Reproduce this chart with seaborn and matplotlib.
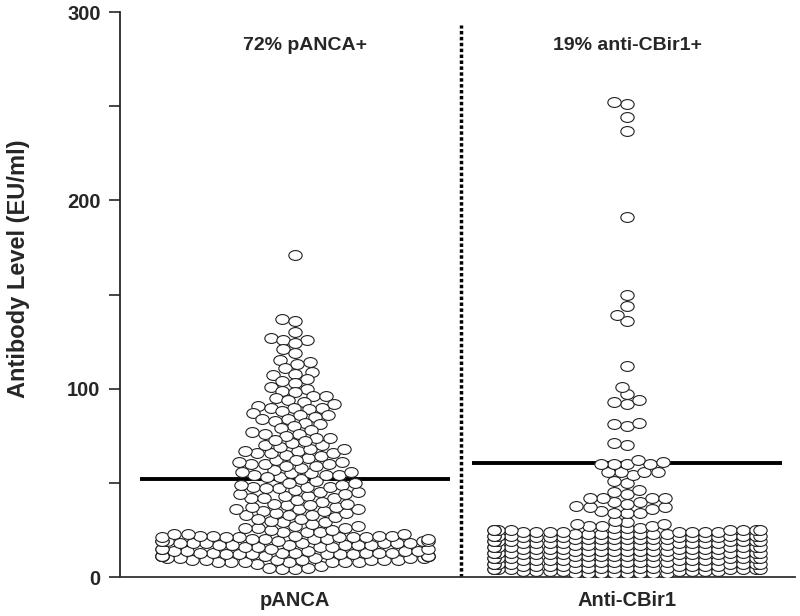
import numpy as np
import pandas as pd
import matplotlib
matplotlib.use('Agg')
import matplotlib.pyplot as plt
from matplotlib.path import Path
from matplotlib.transforms import Affine2D
from matplotlib.ticker import MultipleLocator
import seaborn as sns

groups = ['pANCA', 'Anti-CBir1']
headers = ['72% pANCA+', '19% anti-CBir1+']
cutoffs = [52, 60.5]

# pANCA levels (EU/ml)
pancaLow = [4, 4, 5, 5, 6,
            7, 8, 8, 8, 8, 8, 8, 8, 9, 9, 9, 9, 9, 9, 9,
            10, 10, 10, 10, 10, 11, 11, 11, 11, 11, 11, 11, 11, 11, 12, 12, 12, 12, 12, 12,
            13, 13, 13, 13, 13, 13, 13, 14, 14, 14, 14, 14, 15, 15, 15, 15, 16, 16, 16, 16,
            17, 17, 17, 17, 17, 17, 18, 18, 18, 18, 18, 18, 18, 19, 19, 19, 19, 19, 19, 20,
            20, 20, 20, 20, 21, 21, 21, 21, 21, 21, 22, 22, 22, 22, 22, 23, 23, 23, 24, 24,
            24, 25, 25, 26, 26, 26, 27, 27]
pancaMid = [28, 29, 29, 30, 31, 32, 33, 33, 33, 34, 34, 35, 35, 36, 36, 36, 37, 37, 38, 39,
            40, 41, 42, 42, 42, 43, 43, 44, 45, 45, 46, 47, 48, 48, 48, 49, 49, 50, 51, 52,
            53, 54, 54, 54, 55, 55, 56, 57, 58, 59, 60, 60, 60, 61, 61, 62, 63, 64, 65, 66,
            66, 66, 67, 67, 68, 68, 69, 70, 70, 71, 31, 38, 44, 50, 56, 62, 39, 47, 53, 59]
pancaHigh = [171, 137, 136, 130, 127, 126, 126, 124, 121, 119, 115, 114, 113, 111, 109, 108,
             107, 105, 104, 103, 101, 100, 99, 98, 96, 96, 95, 94, 93, 92, 91, 90, 90, 90,
             89, 88, 87, 86, 86, 85, 84, 84, 83, 82, 81, 80, 79, 78, 77, 76, 76, 75, 74, 74,
             73, 72]

# anti-CBir1 levels
antiLow = [2, 2, 2, 2, 2, 2, 2, 2, 3, 3, 3, 3, 3, 3, 3, 3, 4, 4, 4, 4, 4, 4, 4, 4,
           5, 5, 5, 5, 5, 5, 5, 5, 6, 6, 6, 6, 6, 6, 6, 6, 7, 7, 7, 7, 7, 7, 7, 7,
           8, 8, 8, 8, 8, 8, 8, 8, 9, 9, 9, 9, 9, 9, 9, 9, 10, 10, 10, 10, 10, 10, 10, 10,
           11, 11, 11, 11, 11, 11, 11, 11, 12, 12, 12, 12, 12, 12, 12, 12,
           13, 13, 13, 13, 13, 13, 13, 13, 14, 14, 14, 14, 14, 14, 14, 14,
           15, 15, 15, 15, 15, 15, 15, 15, 16, 16, 16, 16, 16, 16, 16, 16,
           17, 17, 17, 17, 17, 17, 17, 17, 18, 18, 18, 18, 18, 18, 18, 18,
           19, 19, 19, 19, 19, 19, 19, 19, 20, 20, 20, 20, 20, 20, 20, 20,
           21, 21, 21, 21, 21, 21, 21, 21, 22, 22, 22, 22, 22, 22, 22, 22,
           23, 23, 23, 23, 23, 23, 23, 23, 24, 24, 24, 24, 24, 24, 24, 24,
           25, 25, 25, 25, 25, 25, 25, 25, 26, 26, 26, 27, 27, 27, 28, 28, 29, 30]
antiMid = [34, 34, 34, 35, 36, 37, 37, 37.5, 39, 40, 40, 42, 42, 42, 42, 44, 45, 46,
           50, 51, 54, 56, 56, 56, 56, 60, 60, 60, 60, 61, 62]
antiHigh = [70, 71, 80, 81, 82, 92, 93, 94, 97, 101, 112, 136, 139, 144, 150, 191,
            237, 244, 251, 252]

panca = pancaLow + pancaMid + pancaHigh
antiUpper = antiMid + antiHigh
baseDF = pd.DataFrame({'marker': [groups[0]] * len(panca) + [groups[1]] * len(antiLow),
                       'level': panca + antiLow})
upperDF = pd.DataFrame({'marker': [groups[1]] * len(antiUpper), 'level': antiUpper})

sns.set_style('ticks')
plt.rcParams['font.family'] = ['Liberation Sans', 'DejaVu Sans']
plt.rcParams['font.weight'] = 'bold'

fig = plt.figure(figsize=(8, 6.16), dpi=100)
ax = fig.add_axes([0.15, 0.0633, 0.844, 0.9172])

for i, c in enumerate(cutoffs):
    ax.hlines(c, i - 0.467, i + 0.467, color='black', lw=2.8, zorder=1)

swarm_kw = dict(x='marker', y='level', order=groups, color='white',
                edgecolor='#222222', linewidth=0.8, size=8.2, ax=ax, zorder=3)
n0 = len(ax.collections)
sns.swarmplot(data=baseDF, **swarm_kw)
n1 = len(ax.collections)
sns.swarmplot(data=upperDF, **swarm_kw)
ax.set_xlim(-0.527, 1.506)

# lay the swarms out with the value axis stretched (much more for the crowded
# anti-CBir1 base) so dots stack in overlapping columns, then freeze them
base = ax.collections[n0:n1]
upper = ax.collections[n1:]
stages = [(1.5, [base[0]] + upper), (2.7, [base[1]])]
for stretch, colls in stages:
    ax.set_ylim(0, 300 / stretch)
    fig.canvas.draw()
    for coll in colls:
        coll.__dict__.pop('draw', None)
ax.set_ylim(0, 300)
oval = Path.unit_circle().transformed(Affine2D().scale(0.5, 0.37))
for coll in base + upper:
    coll.set_paths([oval])
    coll.set_sizes([9.6 ** 2])

ax.axvline(0.5, ymin=0, ymax=0.977, color='black', lw=2.5, ls=(0, (1, 0.7)), zorder=2)

for i, h in enumerate(headers):
    ax.text(i + 0.03 * (i == 0), 282, h, ha='center', va='center', fontsize=14, fontweight='bold')

ax.yaxis.set_major_locator(MultipleLocator(100))
ax.yaxis.set_minor_locator(MultipleLocator(50))
ax.tick_params(axis='y', which='both', length=8, width=1.2, labelsize=14.5, pad=6)
ax.tick_params(axis='x', length=0, labelsize=14.5, pad=10)
ax.set_xlabel('')
ax.set_ylabel('Antibody Level (EU/ml)', fontsize=17, fontweight='bold')
ax.yaxis.set_label_coords(-0.133, 0.545)
for lab in ax.get_xticklabels() + ax.get_yticklabels():
    lab.set_fontweight('bold')
sns.despine(ax=ax)
ax.spines['left'].set_linewidth(1.3)
ax.spines['bottom'].set_linewidth(1.3)
ax.spines['bottom'].set_color('#333333')

fig.savefig('out.png', dpi=100)
